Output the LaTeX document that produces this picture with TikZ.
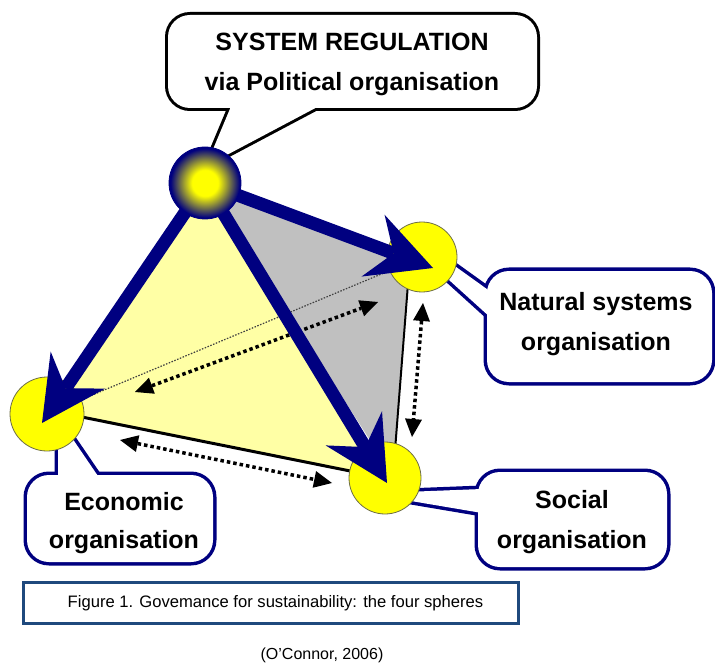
\documentclass[tikz,border=0pt]{standalone}
\usepackage{fontspec}
\setmainfont{Liberation Sans}
\usetikzlibrary{arrows.meta}
\definecolor{navyb}{RGB}{0,0,128}
\definecolor{facey}{RGB}{255,255,165}
\definecolor{faceg}{RGB}{192,192,192}
\definecolor{ballrim}{RGB}{110,110,70}
\definecolor{capblue}{RGB}{31,73,125}
\definecolor{ballyel}{RGB}{255,255,0}
\pgfdeclareradialshading{polball}{\pgfpointorigin}{color(0bp)=(ballyel); color(9bp)=(ballyel); color(24bp)=(navyb); color(25bp)=(navyb); color(50bp)=(navyb)}
\begin{document}
\begin{tikzpicture}[x=1pt,y=-1pt,
  bigarrow/.style={draw=navyb, line width=13pt, -{Stealth[length=64pt,width=66pt,inset=22pt,line width=0pt]}},
  dotarrow/.style={draw=black, line width=3.5pt, dash pattern=on 3.5pt off 3pt, {Triangle[length=18pt,width=17pt,line width=0pt]}-{Triangle[length=18pt,width=17pt,line width=0pt]}},
  ysphere/.style={circle, fill=ballyel, draw=ballrim, line width=0.8pt, minimum size=72pt, inner sep=0pt},
  bubbletext/.style={font=\fontsize{25}{40}\selectfont\bfseries, align=center, inner sep=0pt},
  black callout/.style={draw=black, line width=6pt},
  navy callout/.style={draw=navyb, line width=7pt}
]
\useasboundingbox (0,0) rectangle (715,663);
\fill[white] (0,0) rectangle (715,663);

% centres
\coordinate (Pc) at (205,183);
\coordinate (Nc) at (422,257);
\coordinate (Sc) at (385,478);
\coordinate (Ec) at (47,414);
\coordinate (Nv) at (410,258);
\coordinate (Sv) at (393,476);
\coordinate (Ev) at (47,410);

% faces
\fill[faceg] (Pc) -- (Nv) -- (Sv) -- cycle;
\fill[facey] (Pc) -- (Ev) -- (Sc) -- cycle;

% hidden edge and visible thin edges
\draw[black!75, line width=1.2pt, dash pattern=on 1.5pt off 1.5pt] (Ec) -- (Nc);
\draw[black, line width=3pt] (Ev) -- (Sc);
\draw[black, line width=2pt] (Nv) -- (Sv);

% dotted double arrows
\coordinate (d1a) at (135,392); \coordinate (d1b) at (378,302);
\coordinate (d2a) at (120,440); \coordinate (d2b) at (332,483);
\coordinate (d3a) at (423,303); \coordinate (d3b) at (412,437);
\draw[dotarrow] (d1a) -- (d1b);
\draw[dotarrow] (d2a) -- (d2b);
\draw[dotarrow] (d3a) -- (d3b);

% callout: system regulation
\draw[black callout, rounded corners=22pt] (168,15) rectangle (537,108);
\draw[black callout] (232,104) -- (206,166) -- (323,104) -- cycle;
\fill[white, rounded corners=22pt] (168,15) rectangle (537,108);
\fill[white] (232,104) -- (206,166) -- (323,104) -- cycle;
\node[bubbletext] (tpol) at (352,64.5) {SYSTEM REGULATION\\via Political organisation};

% callout: natural
\draw[navy callout, rounded corners=22pt] (487,271) rectangle (712,382);
\draw[navy callout] (491,292) -- (445,259) -- (438,270) -- (491,318) -- cycle;
\fill[white, rounded corners=22pt] (487,271) rectangle (712,382);
\fill[white] (491,292) -- (445,259) -- (438,270) -- (491,318) -- cycle;
\node[bubbletext] (tnat) at (596,323.6) {Natural systems\\organisation};

% callout: social
\draw[navy callout, rounded corners=22pt] (478,472) rectangle (667,567);
\draw[navy callout] (482,489) -- (405,492) -- (405,500) -- (482,513) -- cycle;
\fill[white, rounded corners=22pt] (478,472) rectangle (667,567);
\fill[white] (482,489) -- (405,492) -- (405,500) -- (482,513) -- cycle;
\node[bubbletext] (tsoc) at (572,521.6) {Social\\organisation};

% callout: economic
\draw[navy callout, rounded corners=22pt] (27,475) rectangle (213,562);
\draw[navy callout] (58,479) -- (58,440) -- (70,435) -- (100,479) -- cycle;
\fill[white, rounded corners=22pt] (27,475) rectangle (213,562);
\fill[white] (58,479) -- (58,440) -- (70,435) -- (100,479) -- cycle;
\node[bubbletext, font=\fontsize{25}{38}\selectfont\bfseries] (teco) at (124,522.6) {Economic\\organisation};

% target spheres
\node[ysphere, minimum size=70pt] (N) at (Nc) {};
\node[ysphere] (S) at (Sc) {};
\node[ysphere, minimum size=74pt] (E) at (Ec) {};

% big arrows
\coordinate (tipE) at (42,423);
\coordinate (tipN) at (433,268);
\coordinate (tipS) at (387,483);
\draw[bigarrow] (Pc) -- (tipE);
\draw[bigarrow] (Pc) -- (tipN);
\draw[bigarrow] (Pc) -- (tipS);

% top sphere
\node[circle, minimum size=72pt, inner sep=0pt, shade, shading=polball, draw=navyb, line width=0.8pt] (P) at (Pc) {};

% caption
\node[draw=capblue, line width=3pt, minimum width=495pt, minimum height=41pt, inner sep=0pt] (cap) at (270.5,602.5) {};
\node[font=\fontsize{16.6}{19}\selectfont, inner sep=0pt] (captext) at (275.5,603) {Figure 1. Govemance for sustainability: the four spheres};
\node[font=\fontsize{16}{19}\selectfont, anchor=base, inner sep=0pt] (cite) at (322,659) {(O'Connor, 2006)};
\end{tikzpicture}
\end{document}
